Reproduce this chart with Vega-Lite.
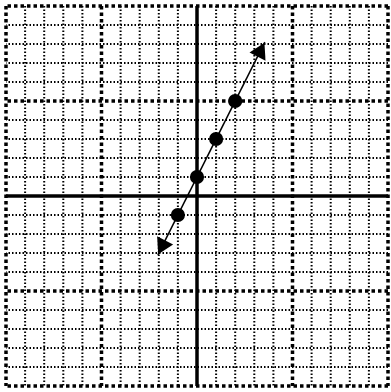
{
  "$schema": "https://vega.github.io/schema/vega-lite/v6.json",
  "width": 382,
  "height": 380,
  "autosize": "none",
  "padding": {"left": 6, "top": 6, "right": 3, "bottom": 6},
  "background": "white",
  "config": {"view": {"stroke": null}},
  "datasets": {
    "minor": [{"v": -9}, {"v": -8}, {"v": -7}, {"v": -6}, {"v": -4}, {"v": -3}, {"v": -2}, {"v": -1}, {"v": 1}, {"v": 2}, {"v": 3}, {"v": 4}, {"v": 6}, {"v": 7}, {"v": 8}, {"v": 9}],
    "major": [{"v": -10}, {"v": -5}, {"v": 5}, {"v": 10}],
    "axis": [{"v": 0}],
    "line": [{"x": -2.05, "y": -3.1}, {"x": 3.55, "y": 8.1}],
    "pts": [{"x": -1, "y": -1}, {"x": 0, "y": 1}, {"x": 1, "y": 3}, {"x": 2, "y": 5}],
    "arrows": [{"x": 3.35, "y": 7.7, "dir": 26.6}, {"x": -1.85, "y": -2.7, "dir": 206.6}]
  },
  "layer": [
    {"data": {"name": "minor"}, "mark": {"type": "rule", "stroke": "black", "strokeWidth": 2, "strokeDash": [1.5, 2]},
     "encoding": {"x": {"field": "v", "type": "quantitative", "scale": {"domain": [-10, 10], "nice": false, "zero": false}, "axis": null}}},
    {"data": {"name": "minor"}, "mark": {"type": "rule", "stroke": "black", "strokeWidth": 2, "strokeDash": [1.5, 2]},
     "encoding": {"y": {"field": "v", "type": "quantitative", "scale": {"domain": [-10, 10], "nice": false, "zero": false}, "axis": null}}},
    {"data": {"name": "major"}, "mark": {"type": "rule", "stroke": "black", "strokeWidth": 3.5, "strokeDash": [3.5, 3]},
     "encoding": {"x": {"field": "v", "type": "quantitative"}}},
    {"data": {"name": "major"}, "mark": {"type": "rule", "stroke": "black", "strokeWidth": 3.5, "strokeDash": [3.5, 3]},
     "encoding": {"y": {"field": "v", "type": "quantitative"}}},
    {"data": {"name": "axis"}, "mark": {"type": "rule", "stroke": "black", "strokeWidth": 3.5},
     "encoding": {"x": {"field": "v", "type": "quantitative"}}},
    {"data": {"name": "axis"}, "mark": {"type": "rule", "stroke": "black", "strokeWidth": 3.5},
     "encoding": {"y": {"field": "v", "type": "quantitative"}}},
    {"data": {"name": "line"}, "mark": {"type": "line", "stroke": "black", "strokeWidth": 1.5},
     "encoding": {"x": {"field": "x", "type": "quantitative"}, "y": {"field": "y", "type": "quantitative"}}},
    {"data": {"name": "pts"}, "mark": {"type": "point", "shape": "circle", "filled": true, "fill": "black", "opacity": 1, "size": 200},
     "encoding": {"x": {"field": "x", "type": "quantitative"}, "y": {"field": "y", "type": "quantitative"}}},
    {"data": {"name": "arrows"}, "mark": {"type": "point", "shape": "triangle-up", "filled": true, "fill": "black", "opacity": 1, "size": 320},
     "encoding": {"x": {"field": "x", "type": "quantitative"}, "y": {"field": "y", "type": "quantitative"}, "angle": {"field": "dir", "type": "quantitative", "scale": null}}}
  ]
}
